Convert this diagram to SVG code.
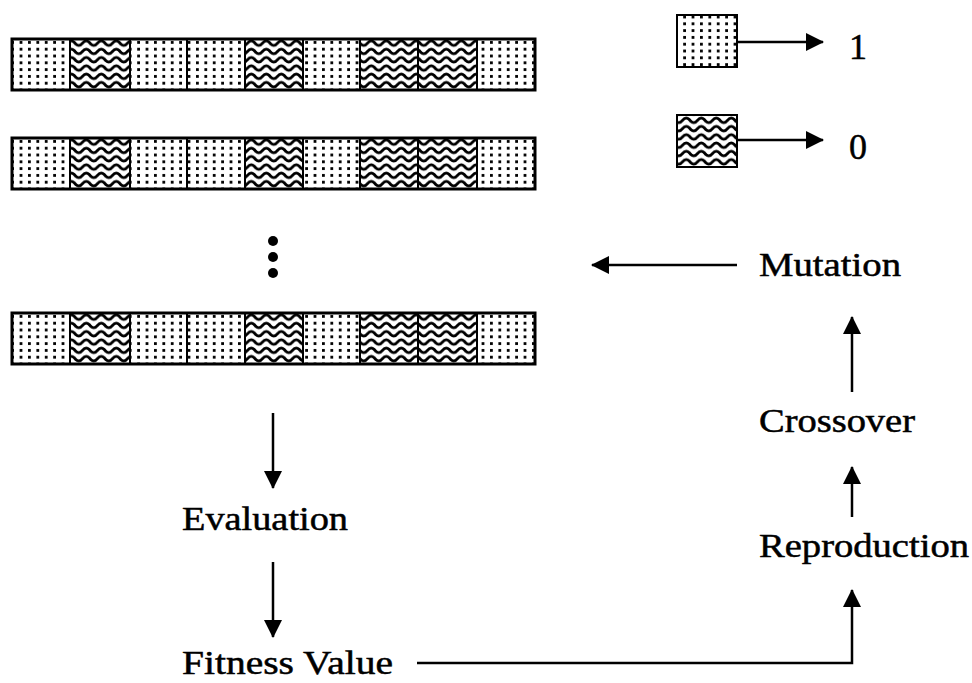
<svg xmlns="http://www.w3.org/2000/svg" xmlns:xlink="http://www.w3.org/1999/xlink" width="972" height="683" viewBox="0 0 972 683">
<style>
.t{font-family:"Liberation Serif","Times New Roman",serif;font-size:33px;fill:#000;stroke:#000;stroke-width:0.5}
.n{font-size:36px}
.d{fill:url(#dots);stroke:#000;stroke-width:2}
.w{fill:url(#waves);stroke:#000;stroke-width:2}
.frame{fill:none;stroke:#000;stroke-width:3}
.c{fill:none;stroke:#000;stroke-width:2.5}
</style>
<defs>
<pattern id="dots" patternUnits="userSpaceOnUse" width="8.4" height="6.8">
<rect width="8.4" height="6.8" fill="#fff"/>
<rect x="2.8" y="2" width="2.8" height="2.8" fill="#000"/>
</pattern>
<pattern id="waves" patternUnits="userSpaceOnUse" width="15" height="8.3">
<rect width="15" height="8.3" fill="#fff"/>
<path d="M-7.5,4.15 Q-3.75,-0.5 0,4.15 T7.5,4.15 T15,4.15 T22.5,4.15" fill="none" stroke="#000" stroke-width="2.8"/>
</pattern>
<marker id="ah" viewBox="0 0 18 20" markerWidth="18" markerHeight="20" refX="17" refY="10" orient="auto" markerUnits="userSpaceOnUse">
<path d="M0,1 L18,10 L0,19 z" fill="#000"/>
</marker>
<g id="bar">
<rect class="d" x="12" y="0" width="58" height="51"/>
<rect class="w" x="70" y="0" width="60" height="51"/>
<rect class="d" x="130" y="0" width="57" height="51"/>
<rect class="d" x="187" y="0" width="58" height="51"/>
<rect class="w" x="245" y="0" width="58" height="51"/>
<rect class="d" x="303" y="0" width="57" height="51"/>
<rect class="w" x="360" y="0" width="58" height="51"/>
<rect class="w" x="418" y="0" width="59" height="51"/>
<rect class="d" x="477" y="0" width="58" height="51"/>
<rect class="frame" x="12" y="0" width="523" height="51"/>
</g>
</defs>
<rect width="972" height="683" fill="#fff"/>

<g id="chromosome1"><use xlink:href="#bar" href="#bar" y="39"/></g>
<g id="chromosome2"><use xlink:href="#bar" href="#bar" y="138"/></g>
<g id="ellipsis">
<circle cx="273" cy="241" r="5"/>
<circle cx="273" cy="257" r="5"/>
<circle cx="273" cy="273" r="5"/>
</g>
<g id="chromosomeN"><use xlink:href="#bar" href="#bar" y="313"/></g>

<g id="legend1">
<rect class="d" x="677" y="15" width="60" height="52"/>
<text class="t n" x="849" y="59">1</text>
</g>
<g id="legend0">
<rect class="w" x="677" y="115" width="60" height="52"/>
<text class="t n" x="849" y="159">0</text>
</g>

<g id="mutation"><text class="t" x="759" y="276" textLength="142" lengthAdjust="spacingAndGlyphs">Mutation</text></g>
<g id="crossover"><text class="t" x="759" y="432" textLength="156" lengthAdjust="spacingAndGlyphs">Crossover</text></g>
<g id="reproduction"><text class="t" x="759" y="557" textLength="210" lengthAdjust="spacingAndGlyphs">Reproduction</text></g>
<g id="evaluation"><text class="t" x="182" y="530" textLength="166" lengthAdjust="spacingAndGlyphs">Evaluation</text></g>
<g id="fitness"><text class="t" x="182" y="674" textLength="211" lengthAdjust="spacingAndGlyphs">Fitness Value</text></g>

<g id="connectors">
<path class="c" d="M737,42 H823" marker-end="url(#ah)"/>
<path class="c" d="M737,140 H823" marker-end="url(#ah)"/>
<path class="c" d="M737,265 H592" marker-end="url(#ah)"/>
<path class="c" d="M273,413 V488" marker-end="url(#ah)"/>
<path class="c" d="M273,562 V637" marker-end="url(#ah)"/>
<path class="c" d="M417,663 H852 V590" marker-end="url(#ah)"/>
<path class="c" d="M852,517 V467" marker-end="url(#ah)"/>
<path class="c" d="M852,392 V317" marker-end="url(#ah)"/>
</g>
</svg>
